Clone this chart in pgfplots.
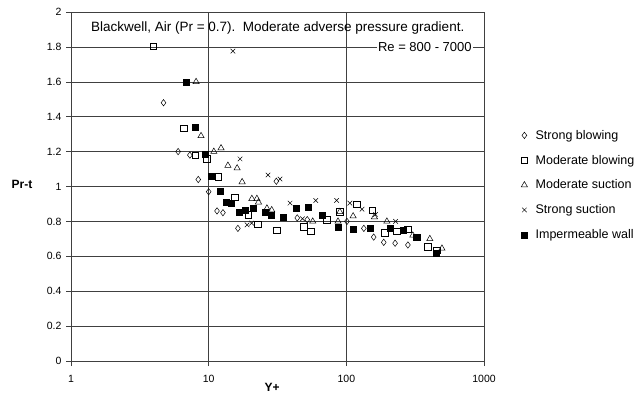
\documentclass[border=0pt]{standalone}
\usepackage{fontspec}
\setmainfont{Liberation Sans}
\usepackage{pgfplots}
\pgfplotsset{compat=1.18}
\begin{document}
\begin{tikzpicture}[x=1pt,y=1pt]
\useasboundingbox (-71,-33) rectangle (568,361);
\begin{axis}[
  at={(0,0)}, anchor=south west,
  width=413pt, height=349pt, scale only axis,
  xmode=log, xmin=1, xmax=1000, ymin=0, ymax=2,
  xtick={1,10,100,1000}, xticklabels={1,10,100,1000},
  ytick={0,0.2,0.4,0.6,0.8,1,1.2,1.4,1.6,1.8,2},
  yticklabels={0,0.2,0.4,0.6,0.8,1,1.2,1.4,1.6,1.8,2},
  xminorticks=false,
  grid=major, major grid style={black!75, line width=0.5pt},
  axis line style={black!75, line width=0.5pt},
  tick style={black!75, line width=0.5pt},
  tick align=outside, tick pos=left, major tick length=5pt,
  ticklabel style={font=\fontsize{10.5}{12}\selectfont},
  xticklabel style={yshift=-6pt},
  yticklabel style={xshift=-1pt},
  xlabel={\textbf{Y+}}, ylabel={\textbf{Pr-t}},
  label style={font=\fontsize{12}{14}\selectfont},
  xlabel style={at={(rel axis cs:0.487,0)}, anchor=center, yshift=-26pt},
  ylabel style={at={(rel axis cs:0,0.505)}, rotate=-90, anchor=center, xshift=-49pt},
  legend style={at={(rel axis cs:1.087,0.504)}, anchor=west, draw=none, fill=none,
    font=\fontsize{12.5}{14}\selectfont, row sep=10.3pt, legend cell align=left, inner sep=0pt},
  legend image code/.code={\path (-4pt,0pt) (9pt,0pt); \draw[#1] plot coordinates {(0pt,0pt)};},
  every axis plot/.append style={only marks, black, line width=0.5pt},
]
\addplot[mark=diamond, mark size=3.2pt, mark options={fill=white}] coordinates {
(4.7,1.48) (6.0,1.20) (7.3,1.18) (8.4,1.04) (10.0,0.97) (11.5,0.86) (12.7,0.85)
(16.3,0.76) (31,1.03) (44,0.82) (52,0.81) (101,0.80) (134,0.76) (158,0.71)
(187,0.68) (226,0.675) (280,0.665)};
\addlegendentry{Strong blowing}
\addplot[mark=square, mark size=3.2pt, mark options={fill=white}] coordinates {
(3.94,1.805) (6.6,1.335) (8.0,1.18) (9.7,1.16) (11.7,1.055) (15.5,0.94) (19.3,0.837)
(22.8,0.785) (31.3,0.75) (49,0.77) (55,0.745) (72,0.81) (89.7,0.855) (119,0.90)
(155,0.865) (190,0.735) (232,0.745) (280,0.755) (325,0.71) (390,0.655) (453,0.635)};
\addlegendentry{Moderate blowing}
\addplot[mark=triangle, mark size=3.6pt, mark options={fill=white}] coordinates {
(8.1,1.60) (8.8,1.29) (10.9,1.20) (12.3,1.22) (13.8,1.12) (16.1,1.105) (17.5,1.026)
(20.6,0.93) (22.4,0.93) (23,0.91) (26.5,0.875) (28.7,0.865) (57,0.80) (87,0.80)
(89.7,0.855) (112,0.83) (160,0.825) (197,0.80) (304,0.72) (404,0.70) (495,0.645)};
\addlegendentry{Moderate suction}
\addplot[mark=x, mark size=3.2pt] coordinates {
(15.0,1.776) (16.9,1.158) (27,1.066) (33,1.043) (19,0.78) (20.5,0.79) (39,0.905)
(48,0.815) (60,0.92) (85,0.92) (106,0.905) (130,0.87) (163,0.84) (228,0.80)};
\addlegendentry{Strong suction}
\addplot[mark=square*, mark size=3pt, mark options={fill=black}] coordinates {
(6.85,1.60) (8.0,1.34) (9.4,1.186) (10.4,1.06) (12.1,0.97) (13.4,0.91) (14.7,0.905)
(16.6,0.85) (18.3,0.865) (21,0.877) (25.6,0.854) (28.7,0.837) (34.6,0.825) (43,0.877)
(53,0.88) (67,0.837) (88,0.768) (113,0.756) (150,0.76) (207,0.76) (258,0.75)
(325,0.71) (453,0.62)};
\addlegendentry{Impermeable wall}
\node[anchor=west, font=\fontsize{13.5}{15}\selectfont, inner sep=0pt] at (rel axis cs:0.048,0.954)
  {Blackwell, Air (Pr = 0.7).\ \ Moderate adverse pressure gradient.};
\node[anchor=east, fill=white, font=\fontsize{13}{15}\selectfont, inner sep=1pt] at (rel axis cs:0.973,0.90)
  {Re = 800 - 7000};
\end{axis}
\end{tikzpicture}
\end{document}
